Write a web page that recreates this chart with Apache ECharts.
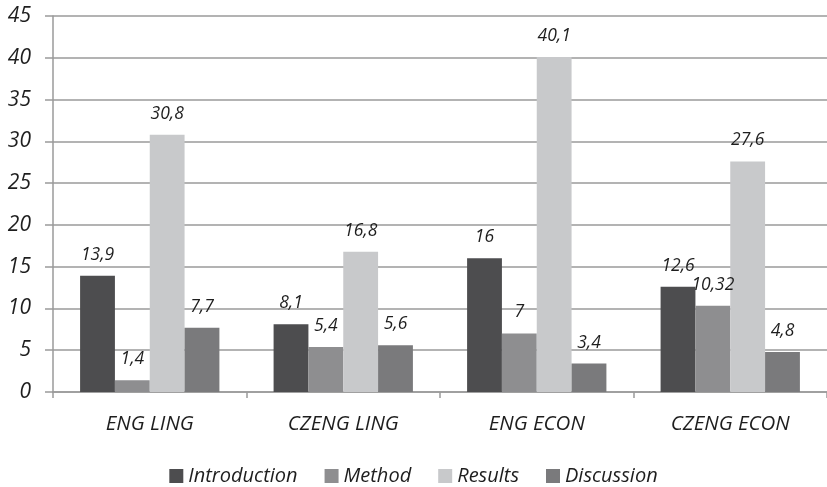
<!DOCTYPE html>
<html>
<head>
<meta charset="utf-8">
<script src="https://cdn.jsdelivr.net/npm/echarts@6/dist/echarts.min.js"></script>
<style>
  html, body { margin: 0; padding: 0; background: #fff; }
  #chart { width: 827px; height: 487px; }
</style>
</head>
<body>
<div id="chart"></div>
<script>
// Corpus groups along the x axis
const categories = ['ENG LING', 'CZENG LING', 'ENG ECON', 'CZENG ECON'];

// Share per rhetorical section (%)
const introduction = [13.9, 8.1, 16, 12.6];
const method = [1.4, 5.4, 7, 10.32];
const results = [30.8, 16.8, 40.1, 27.6];
const discussion = [7.7, 5.6, 3.4, 4.8];

const yTicks = { min: 0, max: 45, interval: 5 };

const FONT = '"Open Sans", "DejaVu Sans", sans-serif';
const TEXT = '#1e1e1e';

function bar(name, data, color) {
  return {
    name: name,
    type: 'bar',
    data: data,
    barGap: '0%',
    barCategoryGap: '28%',
    itemStyle: { color: color },
    label: {
      show: true,
      position: 'top',
      distance: 12,
      fontFamily: FONT,
      fontStyle: 'italic',
      fontSize: 17.5,
      color: TEXT,
      formatter: p => String(p.value).replace('.', ',')
    }
  };
}

const chart = echarts.init(document.getElementById('chart'));
chart.setOption({
  animation: false,
  grid: { left: 53, right: 0, top: 16, bottom: 95 },
  legend: {
    top: 461,
    left: 'center',
    itemWidth: 14,
    itemHeight: 14,
    itemGap: 27,
    icon: 'rect',
    textStyle: { fontFamily: FONT, fontStyle: 'italic', fontSize: 20, color: TEXT },
    data: ['Introduction', 'Method', 'Results', 'Discussion']
  },
  xAxis: {
    type: 'category',
    data: categories,
    axisLine: { lineStyle: { color: '#9a9a9a', width: 1.5 } },
    axisTick: { show: true, length: 6, lineStyle: { color: '#9a9a9a', width: 1.5 } },
    axisLabel: {
      margin: 22,
      fontFamily: FONT,
      fontStyle: 'italic',
      fontSize: 20.5,
      color: TEXT
    }
  },
  yAxis: {
    type: 'value',
    min: yTicks.min,
    max: yTicks.max,
    interval: yTicks.interval,
    axisLine: { show: true, lineStyle: { color: '#9a9a9a', width: 1.5 } },
    axisTick: { show: true, length: 8, lineStyle: { color: '#9a9a9a', width: 1.5 } },
    splitLine: { lineStyle: { color: '#9a9a9a', width: 1.5 } },
    axisLabel: {
      margin: 22,
      fontFamily: FONT,
      fontStyle: 'italic',
      fontSize: 21,
      color: TEXT
    }
  },
  series: [
    bar('Introduction', introduction, '#4d4d4f'),
    bar('Method', method, '#8e8e90'),
    bar('Results', results, '#c8c9cb'),
    bar('Discussion', discussion, '#7a7a7c')
  ]
});
</script>
</body>
</html>
